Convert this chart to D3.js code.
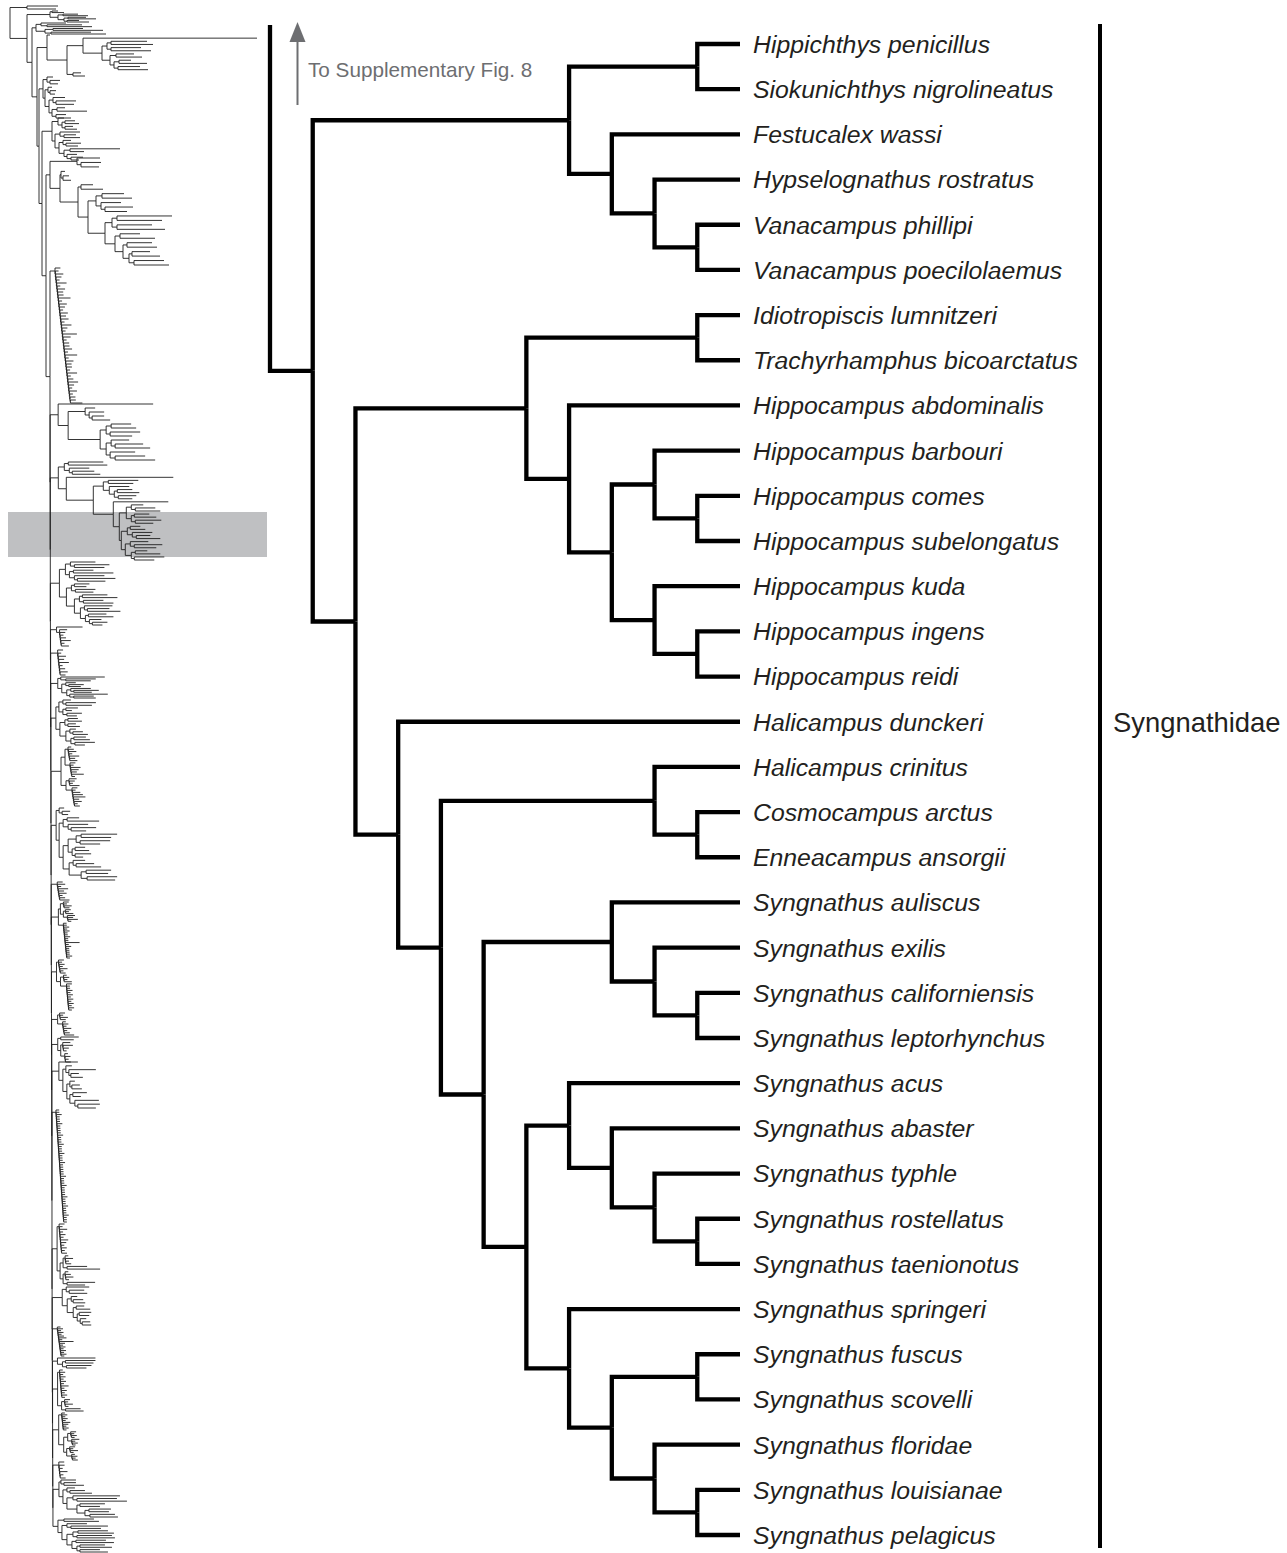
<!DOCTYPE html>
<html>
<head>
<meta charset="utf-8">
<script src="https://cdn.jsdelivr.net/npm/d3@7"></script>
<style>
  html, body { margin: 0; padding: 0; background: #fff; }
  svg { display: block; }
</style>
</head>
<body>
<svg id="chart" width="1287" height="1553"></svg>
<script>
// ---------------- DATA ----------------
const species = [
  "Hippichthys penicillus", "Siokunichthys nigrolineatus", "Festucalex wassi",
  "Hypselognathus rostratus", "Vanacampus phillipi", "Vanacampus poecilolaemus",
  "Idiotropiscis lumnitzeri", "Trachyrhamphus bicoarctatus", "Hippocampus abdominalis",
  "Hippocampus barbouri", "Hippocampus comes", "Hippocampus subelongatus",
  "Hippocampus kuda", "Hippocampus ingens", "Hippocampus reidi",
  "Halicampus dunckeri", "Halicampus crinitus", "Cosmocampus arctus",
  "Enneacampus ansorgii", "Syngnathus auliscus", "Syngnathus exilis",
  "Syngnathus californiensis", "Syngnathus leptorhynchus", "Syngnathus acus",
  "Syngnathus abaster", "Syngnathus typhle", "Syngnathus rostellatus",
  "Syngnathus taenionotus", "Syngnathus springeri", "Syngnathus fuscus",
  "Syngnathus scovelli", "Syngnathus floridae", "Syngnathus louisianae",
  "Syngnathus pelagicus"
];
// topology (indices into species)
const cladeHippichthys = [[0, 1], [2, [3, [4, 5]]]];
const cladeHippocampus = [[6, 7], [8, [[9, [10, 11]], [12, [13, 14]]]]];
const cladeSyngnathusB = [[23, [24, [25, [26, 27]]]], [28, [[29, 30], [31, [32, 33]]]]];
const cladeSyngnathusA = [[19, [20, [21, 22]]], cladeSyngnathusB];
const cladeHalicampus = [[16, [17, 18]], cladeSyngnathusA];
const cladeDunckeri = [15, cladeHalicampus];
const cladeCore = [cladeHippocampus, cladeDunckeri];
const topology = [cladeHippichthys, cladeCore];

const familyLabel = "Syngnathidae";
const pointerLabel = "To Supplementary Fig. 8";

// overview (whole tree thumbnail), one entry per clade hanging off the backbone:
// [backbone internode, first tip row, last tip row, stem length, newick with branch lengths]
const overviewClades = [
  [0, 6, 9, 17, "(:31,:29)"],
  [17, 11, 22, 23, "((:6,:12):2,((:15,:25):5,((:18,:28):4,(:12,:22):3):6):8)"],
  [5, 23, 34, 4, "((:25,(:35,:45):6):5,((:30,:50):8,(:40,:55):6):9)"],
  [5, 35, 76, 10, "(:3,((:174,(((:36,:42):4,(:30,:40):4):5,((:18,:26):6,((:12,:28):5,(:22,:30):4):4):8):19):16,(:8,:12):6):20)"],
  [2, 77, 118, 4, "((:6,(:10,:8):3):4,((:4,(:6,:5):2):3,((:12,(:20,:18):3):4,((:8,:30):5,(:10,:15):4):3):4):2)"],
  [3, 118, 160, 10, "((:6,((:10,:14):3,(:8,:12):3):4):6,((:20,(:12,:16):4):5,((:8,(:15,:12):3):4,((:50,:14):6,(:10,(:12,:8):4):3):5):4):3)"],
  [4, 158, 265, 4, "((:23,(:20,:18):4):27,((:4,(:6,:8):2):1,((:12,:22):3,(((:22,:30):6,(:20,(:28,:22):4):5):8,(((:55,:45):5,(:35,:48):5):7,((:20,:35):5,((:25,:30):4,((:18,:28):3,(:30,:35):5):6):8):10):17):10):18):10)"],
  [4, 268, 403, 5, "{2132141322513213231421631223151322141242131225}"],
  [0.15, 404, 460, 8, "(:95,((:10,(:15,(:12,:18):3):4):17,(((:20,:25):5,(:30,:22):4):6,((:18,(:28,:35):4):5,(:25,(:30,:40):5):4):6):32):10)"],
  [0.15, 462, 560, 8, "(((:35,:39):4,(:20,(:22,:28):3):5):6,(:107,(((:30,:25):5,(:20,((:15,:22):3,(:18,:14):4):5):6):10,(:55,(((:12,(:20,:25):4):5,((:15,:22):3,(:26,:18):4):5):7,(((:10,:15):3,(:20,(:14,:24):4):5):6,((:18,(:28,:22):4):5,((:12,:25):4,(:30,:20):3):6):4):2):6):20):27):8)"],
  [0.12, 562, 625, 9, "(((:25,(:35,:30):4):5,((:20,:40):4,(:30,(:38,:28):3):5):4):6,(((:15,:12):3,(:20,:18):4):5,(((:25,:35):3,(:20,:30):4):5,((:28,(:22,:33):3):4,((:18,:25):3,(:12,(:15,:10):3):4):5):6):8):7)"],
  [0.12, 627, 646, 6, "(:26,{3212413}:3)"],
  [0.12, 650, 675, 7, "{213241232}"],
  [0.12, 677, 698, 7, "((:44,(:30,:25):5):3,((:10,(:15,:12):3):4,((:20,(:25,:18):3):4,(:38,(:20,:22):4):3):5):4)"],
  [0.12, 700, 745, 5, "(((:8,(:30,:26):3):4,((:12,:6):3,(:15,:10):4):4):3,(((:10,:14):3,(:8,:12):3):5,((:6,(:10,:15):3):4,((:12,:16):3,(:20,:10):4):5):6):4)"],
  [0.12, 747, 806, 10, "(({1231423}:3,{2143251}:5):4,({3214}:3,{213452312}:6):5)"],
  [0.12, 808, 880, 5, "((:5,(:8,:6):3):3,(((:12,:32):4,(:20,(:25,:15):3):5):4,((((:36,:30):5,(:30,:20):4):8,((:10,:14):3,(:16,:8):3):4):5,((:12,(:18,:25):3):4,((:25,:22):5,(:30,:28):6):12):6):4):3)"],
  [0.12, 882, 900, 6, "{231423124}"],
  [0.12, 902, 958, 7, "(({2132}:3,({213}:2,{3241}:4):3):2,{0.2;1121211211612111121}:5)"],
  [0.12, 960, 1010, 5, "({2121312}:2,({1213}:3,{0.2;2112121212121}:6):4)"],
  [0.12, 1013, 1035, 6, "({2132}:2,{1213124}:5)"],
  [0.12, 1037, 1062, 6, "((:18,:13):3,({3421}:2,{1212}:4):3)"],
  [0.12, 1062, 1108, 7, "(:19,((:6,(:27,(:8,:12):2):3):3,((:5,(:8,:10):2):3,((:14,:8):3,(:24,(:22,:18):3):5):3):4):4)"],
  [0.12, 1110, 1222, 4, "{0.16;11211121111211121112111211111211121111211121112111}"],
  [0.12, 1224, 1285, 5, "({0.25;213121321212}:2,(({1312}:2,(:20,:33):4):3,({1231}:2,(:28,:18):4):3):3)"],
  [0.12, 1287, 1325, 10, "((:23,(:15,:18):3):4,((:6,(:10,:12):2):4,((:8,:14):3,((:12,:10):2,(:6,(:8,:9):2):3):4):6):5)"],
  [0.12, 1327, 1356, 5, "{0.25;12121231621212121}"],
  [0.12, 1358, 1368, 5, "(:38,((:30,:28):3,(:25,:20):4):5)"],
  [0.12, 1370, 1411, 5, "({0.2;1212121312121}:2,({2131}:3,(:15,:18):4):4)"],
  [0.12, 1413, 1460, 6, "({0.2;1212132121}:3,(({2121}:3,{3121}:4):4,({2131}:3,{1212}:5):3):5)"],
  [0.12, 1462, 1478, 6, "{221312}"],
  [0.12, 1480, 1517, 6, "((:15,(:12,:20):3):2,((:8,(:15,:22):3):4,((:47,(:40,:50):4):6,((:25,:20):3,((:22,:20):4,(:25,:28):5):8):10):4):4)"],
  [0.12, 1519, 1552, 5, "((:30,:35):6,((:20,(:37,:30):4):5,(((:30,:36):5,(:35,:38):4):6,((:30,:38):4,((:25,:32):3,(:20,:28):3):5):5):5):4)"]
];
const highlightRows = [512, 557];

// ---------------- HELPERS ----------------
function comb(body) {
  let step = 0.35, digits = body;
  if (body.includes(";")) { const p = body.split(";"); step = +p[0]; digits = p[1]; }
  const ds = digits.split("").map(Number);
  function build(k) {
    if (k === ds.length - 1) return { len: ds[k] * 2.2 + 1 };
    return { len: step, children: [{ len: ds[k] * 2.2 + 1 }, build(k + 1)] };
  }
  return build(0);
}
function parseNwk(str) {
  const s = str.replace(/\s+/g, "");
  let i = 0;
  function node() {
    let n;
    if (s[i] === "(") {
      i++;
      n = { children: [node()] };
      while (s[i] === ",") { i++; n.children.push(node()); }
      i++; // ')'
    } else if (s[i] === "{") {
      const j = s.indexOf("}", i);
      n = comb(s.slice(i + 1, j));
      i = j + 1;
    } else {
      const j = i;
      while (i < s.length && !":,)".includes(s[i])) i++;
      n = { name: s.slice(j, i) };
    }
    if (s[i] === ":") {
      i++;
      const j = i;
      while (i < s.length && !",)".includes(s[i])) i++;
      n.len = +s.slice(j, i);
    } else if (n.len === undefined) n.len = 0;
    return n;
  }
  return node();
}

// ---------------- DRAW ----------------
const svg = d3.select("#chart");
const FONT = "'Liberation Sans', Arial, Helvetica, sans-serif";

// ---- overview thumbnail ----
const ovX = d3.scaleLinear().domain([0, 250]).range([10, 260]);
const ovY = d3.scaleLinear().domain([0, 1553]).range([0, 1553]);

svg.append("rect")
  .attr("x", 8).attr("width", 259)
  .attr("y", ovY(highlightRows[0]))
  .attr("height", ovY(highlightRows[1]) - ovY(highlightRows[0]))
  .attr("fill", "#bfc0c2");

const cladeRoots = overviewClades.map((c, k) => {
  const n = parseNwk(c[4]);
  n.len = c[3];
  n.clade = k;
  return n;
});
const N = cladeRoots.length;
let chain = cladeRoots[N - 1];
for (let k = N - 2; k >= 0; k--) {
  chain = { len: k === 0 ? 0 : overviewClades[k][0], children: [cladeRoots[k], chain] };
}
const ov = d3.hierarchy(chain);
ov.eachBefore(d => { d.dist = (d.parent ? d.parent.dist : 0) + (d.data.len || 0); });
ov.descendants().filter(d => d.data.clade !== undefined).forEach(d => {
  const c = overviewClades[d.data.clade];
  const lv = d.leaves();
  const s = d3.scaleLinear().domain([0, Math.max(1, lv.length - 1)]).range([c[1], c[2]]);
  lv.forEach((l, i) => { l.row = lv.length === 1 ? (c[1] + c[2]) / 2 : s(i); });
});
ov.eachAfter(d => { if (d.children) d.row = d3.mean(d.children, c => c.row); });

svg.append("g")
  .attr("fill", "none")
  .attr("stroke", "#1e1e1e")
  .attr("stroke-width", 0.9)
  .selectAll("path")
  .data(ov.links())
  .join("path")
  .attr("d", l => `M${ovX(l.source.dist)},${ovY(l.source.row)}V${ovY(l.target.row)}H${ovX(l.target.dist)}`);

// ---- main tree ----
const root = d3.hierarchy(topology, d => Array.isArray(d) ? d : null);
const nTips = root.leaves().length;
const xScale = d3.scaleLinear().domain([0, root.height + 1]).range([740, 270]);
const yScale = d3.scaleLinear().domain([0, nTips - 1]).range([44, 1535]);

root.leaves().forEach((l, i) => { l.py = yScale(i); });
root.eachAfter(d => { if (d.children) d.py = d3.mean(d.children, c => c.py); });
root.each(d => { d.px = xScale(d.height); });

const gTree = svg.append("g")
  .attr("fill", "none")
  .attr("stroke", "#000")
  .attr("stroke-width", 4.3)
  .attr("stroke-linejoin", "miter")
  .attr("stroke-linecap", "butt");

gTree.selectAll("path.link")
  .data(root.links())
  .join("path")
  .attr("class", "link")
  .attr("d", l => `M${l.source.px},${l.source.py}V${l.target.py}H${l.target.px}`);

// stem continuing to the rest of the tree (upward)
gTree.append("path")
  .attr("d", `M${xScale(root.height + 1)},25V${root.py}H${root.px}`);

// tip labels
svg.append("g")
  .selectAll("text")
  .data(root.leaves())
  .join("text")
  .attr("x", 753)
  .attr("y", d => d.py)
  .attr("dy", "0.36em")
  .attr("font-family", FONT)
  .attr("font-style", "italic")
  .attr("font-size", 24.8)
  .attr("fill", "#231f20")
  .text(d => species[d.data]);

// family bar + label
svg.append("line")
  .attr("x1", 1100).attr("x2", 1100)
  .attr("y1", yScale(0) - 20).attr("y2", yScale(nTips - 1) + 13)
  .attr("stroke", "#000").attr("stroke-width", 4);
svg.append("text")
  .attr("x", 1113)
  .attr("y", yScale(15))
  .attr("dy", "0.36em")
  .attr("font-family", FONT)
  .attr("font-size", 27.4)
  .attr("fill", "#231f20")
  .text(familyLabel);

// pointer arrow
const grey = "#6d6e71";
svg.append("line")
  .attr("x1", 297.5).attr("x2", 297.5)
  .attr("y1", 105).attr("y2", 38)
  .attr("stroke", grey).attr("stroke-width", 2);
svg.append("path")
  .attr("d", "M297.5,22L289.5,42L305.5,42Z")
  .attr("fill", grey);
svg.append("text")
  .attr("x", 308).attr("y", 77)
  .attr("font-family", FONT)
  .attr("font-size", 20.7)
  .attr("fill", grey)
  .text(pointerLabel);
</script>
</body>
</html>
